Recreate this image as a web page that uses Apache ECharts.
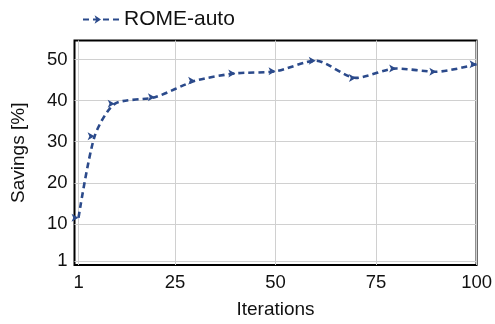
<!DOCTYPE html>
<html>
<head>
<meta charset="utf-8">
<script src="https://cdn.jsdelivr.net/npm/echarts@6/dist/echarts.min.js"></script>
<style>
html,body{margin:0;padding:0;background:#fff;}
#chart{width:495px;height:324px;}
</style>
</head>
<body>
<div id="chart"></div>
<script>
const iterations = [1, 5, 10, 20, 30, 40, 50, 60, 70, 80, 90, 100];
const savings = [11.5, 31.3, 39.2, 40.8, 44.8, 46.6, 47.1, 49.7, 45.5, 47.8, 47.0, 48.8];
const xTicks = [1, 25, 50, 75, 100];
const yTicks = [1, 10, 20, 30, 40, 50];
const seriesName = 'ROME-auto';

const FONT = 'Liberation Sans';
const TXT = '#111';
const BLUE = '#2b4a8b';

const chart = echarts.init(document.getElementById('chart'), null, {renderer: 'canvas'});
chart.setOption({
  animation: false,
  backgroundColor: '#fff',
  textStyle: {fontFamily: FONT, color: TXT},
  legend: {
    left: 77, top: 4,
    itemWidth: 36, itemHeight: 8,
    textStyle: {fontFamily: FONT, fontSize: 21, color: TXT},
    data: [seriesName]
  },
  grid: {
    left: 74.5, right: 15.5, top: 40.5, bottom: 55,
    show: true, borderColor: '#000', borderWidth: 2, backgroundColor: 'transparent'
  },
  xAxis: {
    type: 'value', min: 0, max: 100,
    name: 'Iterations', nameLocation: 'middle', nameGap: 35,
    nameTextStyle: {fontFamily: FONT, fontSize: 19, color: TXT},
    axisLine: {show: false},
    axisTick: {show: false, customValues: xTicks},
    axisLabel: {customValues: xTicks, fontFamily: FONT, fontSize: 18.5, color: TXT, margin: 8},
    splitLine: {show: true, lineStyle: {color: '#d0d0d0', width: 1}}
  },
  yAxis: {
    type: 'value', min: 0, max: 54.6,
    name: 'Savings [%]', nameLocation: 'middle', nameGap: 46,
    nameTextStyle: {fontFamily: FONT, fontSize: 19, color: TXT},
    axisLine: {show: false},
    axisTick: {show: false, customValues: yTicks},
    axisLabel: {customValues: yTicks, fontFamily: FONT, fontSize: 18.5, color: TXT, margin: 7},
    splitLine: {show: true, lineStyle: {color: '#d0d0d0', width: 1}}
  },
  series: [{
    name: seriesName,
    type: 'line',
    data: iterations.map((x, i) => [x, savings[i]]),
    smooth: 0.25,
    symbol: 'arrow',
    symbolRotate: -90,
    symbolSize: [6, 7],
    itemStyle: {color: BLUE},
    lineStyle: {color: BLUE, width: 2.6, type: [6, 4]},
    z: 3
  }]
});
</script>
</body>
</html>
